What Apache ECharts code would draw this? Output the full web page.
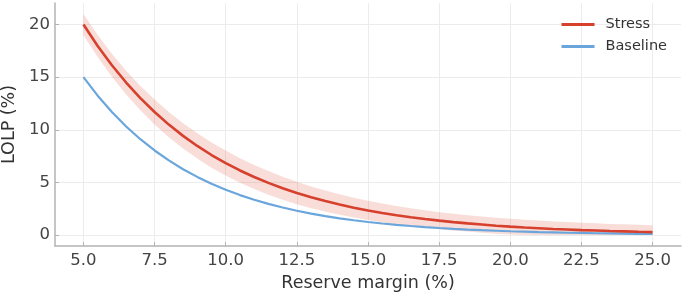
<!DOCTYPE html>
<html>
<head>
<meta charset="utf-8">
<script src="https://cdn.jsdelivr.net/npm/echarts@6/dist/echarts.min.js"></script>
<style>
  html, body { margin: 0; padding: 0; background: #fff; }
  #chart { width: 685px; height: 296px; }
</style>
</head>
<body>
<div id="chart"></div>
<script>
// reserve margin (%)
const reserveMargin = [5, 5.5, 6, 6.5, 7, 7.5, 8, 8.5, 9, 9.5, 10, 10.5, 11, 11.5, 12, 12.5, 13, 13.5, 14, 14.5,
  15, 15.5, 16, 16.5, 17, 17.5, 18, 18.5, 19, 19.5, 20, 20.5, 21, 21.5, 22, 22.5, 23, 23.5, 24, 24.5, 25];

const stressLolp = [20.00, 17.96, 16.13, 14.49, 13.01, 11.69, 10.49, 9.42, 8.46, 7.60, 6.83, 6.13, 5.51, 4.95,
  4.44, 3.99, 3.58, 3.22, 2.89, 2.59, 2.33, 2.09, 1.88, 1.69, 1.52, 1.36, 1.22, 1.10, 0.99, 0.88, 0.79, 0.71,
  0.64, 0.57, 0.52, 0.46, 0.42, 0.37, 0.34, 0.30, 0.27];

const baselineLolp = [15.00, 13.24, 11.68, 10.31, 9.10, 8.03, 7.09, 6.25, 5.52, 4.87, 4.30, 3.79, 3.35, 2.95,
  2.61, 2.30, 2.03, 1.79, 1.58, 1.40, 1.23, 1.09, 0.96, 0.85, 0.75, 0.66, 0.58, 0.51, 0.45, 0.40, 0.35, 0.31,
  0.27, 0.24, 0.21, 0.19, 0.16, 0.15, 0.13, 0.11, 0.10];

// uncertainty band round the stress curve
const stressLow = [19.00, 16.91, 15.03, 13.36, 11.85, 10.51, 9.29, 8.22, 7.26, 6.40, 5.64, 4.96, 4.36, 3.83,
  3.35, 2.93, 2.55, 2.22, 1.92, 1.65, 1.42, 1.20, 1.01, 0.84, 0.69, 0.55, 0.43, 0.32, 0.22, 0.12, 0.04, 0,
  0, 0, 0, 0, 0, 0, 0, 0, 0];
const stressHigh = [21.00, 19.01, 17.23, 15.62, 14.17, 12.87, 11.69, 10.62, 9.66, 8.80, 8.02, 7.30, 6.66, 6.07,
  5.53, 5.05, 4.61, 4.22, 3.86, 3.53, 3.24, 2.98, 2.75, 2.54, 2.35, 2.17, 2.01, 1.88, 1.76, 1.64, 1.54, 1.45,
  1.37, 1.29, 1.23, 1.16, 1.11, 1.05, 1.01, 0.96, 0.92];

const xTicks = [5, 7.5, 10, 12.5, 15, 17.5, 20, 22.5, 25];
const yTicks = [0, 5, 10, 15, 20];

const RED = '#d6402d';
const BLUE = '#6aa6dc';

const chart = echarts.init(document.getElementById('chart'));

const pairs = (ys) => reserveMargin.map((x, i) => [x, ys[i]]);

// band drawn as one polygon: upper edge left->right, lower edge right->left
const renderBand = (params, api) => {
  if (params.dataIndex !== 0) return null;
  const pts = [];
  for (let i = 0; i < reserveMargin.length; i++) {
    pts.push(api.coord([reserveMargin[i], stressHigh[i]]));
  }
  for (let i = reserveMargin.length - 1; i >= 0; i--) {
    pts.push(api.coord([reserveMargin[i], stressLow[i]]));
  }
  return {
    type: 'polygon',
    shape: { points: pts },
    style: { fill: 'rgba(214,64,45,0.18)' }
  };
};

const option = {
  animation: false,
  textStyle: { fontFamily: 'DejaVu Sans' },
  grid: { left: 55, right: 4, top: 3, bottom: 50, outerBoundsMode: 'none', containLabel: false },
  legend: {
    data: ['Stress', 'Baseline'],
    orient: 'vertical',
    right: 13,
    top: 12,
    icon: 'rect',
    itemWidth: 33,
    itemHeight: 3,
    itemGap: 7,
    textStyle: { fontSize: 14.5, color: '#333', padding: [0, 0, 0, 6] }
  },
  xAxis: {
    type: 'value',
    min: 4,
    max: 26,
    name: 'Reserve margin (%)',
    nameLocation: 'middle',
    nameGap: 28,
    nameTextStyle: { fontSize: 17.5, color: '#333' },
    axisLine: { show: true, onZero: false, lineStyle: { color: '#b3b3b3', width: 1.5 } },
    axisTick: { show: true, inside: true, length: 4, lineStyle: { color: '#b3b3b3' }, customValues: xTicks },
    axisLabel: {
      fontSize: 16.5, color: '#444', margin: 6,
      customValues: xTicks,
      formatter: (v) => v.toFixed(1)
    },
    splitLine: { show: true, lineStyle: { color: '#ececec', width: 1 } }
  },
  yAxis: {
    type: 'value',
    min: -1.05,
    max: 22.05,
    name: 'LOLP (%)',
    nameLocation: 'middle',
    nameGap: 32,
    nameTextStyle: { fontSize: 17.5, color: '#333' },
    axisLine: { show: true, onZero: false, lineStyle: { color: '#b3b3b3', width: 1.5 } },
    axisTick: { show: true, inside: true, length: 4, lineStyle: { color: '#b3b3b3' }, customValues: yTicks },
    axisLabel: { fontSize: 16.5, color: '#444', margin: 5, customValues: yTicks },
    splitLine: { show: true, lineStyle: { color: '#ececec', width: 1 } }
  },
  series: [
    {
      name: 'band',
      type: 'custom',
      data: pairs(stressHigh),
      renderItem: renderBand,
      silent: true,
      clip: true,
      z: 1
    },
    {
      name: 'Stress',
      type: 'line',
      data: pairs(stressLolp),
      symbol: 'none',
      color: RED,
      lineStyle: { color: RED, width: 2.6 },
      z: 3
    },
    {
      name: 'Baseline',
      type: 'line',
      data: pairs(baselineLolp),
      symbol: 'none',
      color: BLUE,
      lineStyle: { color: BLUE, width: 2.2 },
      z: 2
    }
  ]
};

chart.setOption(option);
</script>
</body>
</html>
